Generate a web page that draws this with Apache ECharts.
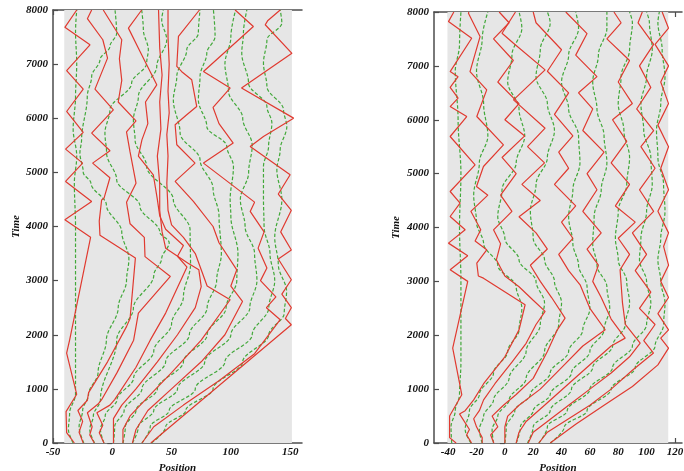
<!DOCTYPE html>
<html>
<head>
<meta charset="utf-8">
<script src="https://cdn.jsdelivr.net/npm/echarts@6/dist/echarts.min.js"></script>
<style>
  html, body { margin: 0; padding: 0; background: #fff; }
  #chart { width: 684px; height: 471px; }
</style>
</head>
<body>
<div id="chart"></div>
<script>
// tick labels
const leftPositionTicks = [-50, 0, 50, 100, 150]
const rightPositionTicks = [-40, -20, 0, 20, 40, 60, 80, 100, 120]
const timeTicks = [0, 1000, 2000, 3000, 4000, 5000, 6000, 7000, 8000]

// shaded box extent [xFrom, xTo] per panel
const leftBox = [-40.5, 151.5]
const rightBox = [-40.5, 115.3]

// left panel, red trajectories: [position, time]
const leftRed = [
  [[-32, 0], [-38.5, 190], [-39, 580], [-30, 900], [-38.5, 1660], [-36, 1900], [-18.3, 3800], [-40, 4124], [-17.4, 4463], [-39.4, 4833], [-25, 5171], [-39.4, 5430], [-24.5, 5738], [-38.5, 6125], [-24.5, 6538], [-38.5, 6880], [-18.8, 7357], [-40, 7680], [-30, 8000]],
  [[-24.5, 0], [-28, 200], [-25, 400], [-29, 600], [-21, 790], [-20, 930], [-4, 1500], [12, 2150], [15, 2300], [19.5, 3420], [-10.4, 3840], [-11, 4100], [-9, 4490], [-7, 4520], [-2, 4900], [-16.6, 5171], [-1.9, 5400], [-17.4, 5725], [0.9, 6156], [-14.6, 6538], [-4, 7111], [-8, 7450], [-21, 7840], [-17.4, 8000]],
  [[-15.2, 0], [-19, 150], [-17, 300], [-21, 560], [-12, 720], [-9, 800], [4, 1300], [18, 1900], [22, 2400], [49, 3078], [27.6, 3443], [27, 3800], [15, 4050], [12, 4450], [20, 4800], [14.9, 5387], [12, 5750], [20, 5950], [5, 6300], [8, 6700], [6, 7100], [8, 7450], [-7.6, 8000]],
  [[-7, 0], [-11, 190], [-8, 330], [-13, 560], [-2, 700], [2, 800], [20, 1400], [32, 1900], [45, 2400], [63, 3250], [55, 3450], [60, 3650], [45, 3950], [40, 4200], [38, 4500], [34.6, 4956], [22, 5300], [25, 5600], [30, 5900], [28, 6300], [37.5, 6618], [23.4, 7234], [13.6, 7665], [24.8, 8000]],
  [[1, 0], [1, 450], [8, 700], [20, 1000], [38, 1500], [55, 2000], [70, 2500], [75, 2890], [73, 3200], [63.6, 3324], [45, 3600], [42, 3900], [40, 4300], [40, 4800], [38, 5300], [41, 5800], [40, 6300], [42, 6800], [40, 7300], [39, 8000]],
  [[9, 0], [9, 250], [15, 500], [28, 800], [50, 1300], [75, 1900], [99.4, 2647], [80, 2900], [75, 3200], [70, 3500], [60, 3800], [50, 4030], [47, 4300], [46, 4800], [47, 5300], [46, 5700], [48, 6100], [47, 6500], [48, 7000], [47, 7500], [47, 8000]],
  [[17, 0], [20, 250], [30, 600], [50, 1000], [75, 1500], [95, 2000], [109.8, 2616], [100, 2900], [105, 3200], [90, 3700], [85, 4000], [68.4, 4463], [53, 4833], [69.8, 5171], [54.4, 5510], [53, 5879], [62.8, 6064], [71.2, 6218], [67, 6711], [58.6, 6860], [54.4, 6957], [55.8, 7511], [73.5, 8000]],
  [[25, 0], [35, 300], [60, 700], [90, 1150], [120, 1650], [141.6, 2278], [130, 2500], [138, 2700], [125, 3000], [130.4, 3232], [123, 3600], [128, 3900], [116.3, 4278], [120, 4450], [76.9, 5171], [102, 5541], [90, 5900], [85, 6200], [99.4, 6557], [76.9, 6864], [119, 7695], [103.6, 8000]],
  [[32.5, 0], [151, 2185], [146, 2300], [151, 2500], [143, 2750], [151, 3016], [140, 3400], [151, 3566], [142, 3900], [151, 4300], [140, 4600], [150, 4956], [116.3, 5479], [127.5, 5664], [152.9, 6002], [109, 6557], [151.5, 7200], [129, 7727], [131, 7800], [141.6, 8000]]
]

// left panel, green (dashed) trajectories
const leftGreen = [
  [[-33, 0], [-37, 250], [-36, 550], [-31, 900], [-31, 2500], [-31, 4000], [-32, 4800], [-30, 5300], [-33, 5800], [-31, 6400], [-30, 7000], [-31, 7600], [-30, 8000]],
  [[-24, 0], [-28, 300], [-25, 600], [-20, 900], [-12, 1300], [-5, 1900], [5, 2500], [12, 3000], [14, 3400], [8, 3900], [-5, 4400], [-18, 4800], [-24.5, 5000], [-27.3, 5356], [-25.9, 5602], [-21.1, 6402], [-17.4, 6772], [-10.4, 7080], [-2, 7326], [3.7, 7572], [2.3, 8000]],
  [[-15, 0], [-19, 250], [-16, 500], [-10, 800], [3.7, 1904], [17.8, 2489], [35, 3100], [41.7, 3412], [48, 3700], [40, 3900], [23.4, 4371], [3.7, 4863], [-4.8, 5356], [-6.2, 5725], [-2, 6156], [16.3, 6649], [29, 7018], [30.4, 7265], [26.2, 7634], [24.8, 8000]],
  [[-7, 0], [-10, 250], [-6, 500], [4, 800], [18, 1200], [35, 1700], [50, 2200], [60, 2700], [66, 3300], [65.6, 3940], [51.5, 4494], [29, 5110], [19.2, 5602], [17.8, 5971], [22, 6402], [37.5, 6957], [45.9, 7449], [41.7, 7819], [43, 8000]],
  [[1, 0], [2, 300], [10, 600], [25, 1000], [45, 1500], [65, 2000], [80, 2500], [88, 3000], [92, 3500], [90, 4200], [85, 4700], [74, 5233], [57.2, 5725], [51.5, 6341], [54.4, 6772], [62.8, 7265], [72.6, 7572], [74, 8000]],
  [[9, 0], [11, 300], [20, 600], [38, 1000], [60, 1500], [80, 2000], [96, 2500], [105, 3000], [106, 3500], [100, 4186], [99.4, 4494], [102.2, 5110], [96.6, 5479], [79.7, 5848], [72.6, 6341], [74, 6772], [79.7, 7203], [86.7, 7511], [85.3, 8000]],
  [[17, 0], [22, 300], [35, 600], [55, 1000], [78, 1500], [100, 2000], [116, 2500], [122, 3000], [120, 3500], [112, 4000], [108, 4500], [115, 5000], [118, 5500], [110, 6000], [98, 6500], [95, 7000], [100, 7500], [104, 8000]],
  [[25, 0], [32, 300], [48, 600], [70, 1000], [95, 1500], [118, 2000], [132, 2500], [137, 3000], [133, 3500], [128, 4000], [127.5, 4500], [127.5, 5110], [131.8, 5479], [134.6, 5910], [130.4, 6218], [114.9, 6649], [109.2, 7203], [110.6, 7572], [113.5, 8000]],
  [[33, 0], [45, 300], [62, 600], [85, 1000], [110, 1500], [132, 2000], [145, 2400], [147, 2800], [140, 3300], [137, 3800], [143, 4494], [138.8, 5048], [141.6, 5417], [147.2, 5848], [144.4, 6156], [130.4, 6587], [127.5, 7018], [130.4, 7449], [143, 7757], [141.6, 8000]]
]

// right panel, red trajectories
const rightRed = [
  [[-34.4, 0], [-39, 100], [-39, 500], [-30.4, 896], [-36.8, 1762], [-26.2, 3000], [-38.6, 3215], [-26.2, 3475], [-39.8, 3710], [-28, 3957], [-38.6, 4204], [-31.6, 4452], [-38.6, 4668], [-21, 5163], [-38.6, 5689], [-26.9, 6060], [-38.6, 6245], [-33, 6400], [-38.6, 6600], [-33, 6800], [-38.6, 6894], [-23.4, 7513], [-39.8, 7822], [-36, 8000]],
  [[-23.5, 0], [-27, 150], [-25, 250], [-32, 540], [-28, 600], [-22, 800], [-15, 1100], [0, 1600], [10, 2100], [14.3, 2566], [-15.1, 3060], [-18.7, 3100], [-19.8, 3338], [-12.8, 3586], [-21, 3750], [-17, 3957], [-24, 4300], [-12, 4600], [-20, 4761], [-15.1, 5132], [-1, 5534], [-19.8, 6060], [-12.8, 6554], [-24.6, 6894], [-17.5, 7544], [-25.7, 7977], [-25.4, 8000]],
  [[-16, 0], [-16, 100], [-20, 300], [-22, 450], [-18, 600], [-15, 800], [-7, 1100], [5, 1500], [15, 1850], [22, 2200], [28.4, 2442], [20, 2650], [10, 2900], [0, 3100], [-6, 3400], [-3, 3700], [-8, 3957], [5, 4300], [-3, 4600], [8, 5000], [-2, 5300], [14, 5700], [0, 6000], [10, 6300], [-5, 6700], [6, 7100], [-8, 7500], [3, 7800], [-4, 8000]],
  [[-7.8, 0], [-10, 150], [-5, 300], [-9, 500], [-1, 700], [8, 900], [20, 1200], [30, 1700], [37, 2100], [42.5, 2318], [33, 2700], [25, 3000], [18, 3300], [30, 3600], [22, 3900], [10, 4200], [25, 4500], [12, 4800], [28, 5200], [16, 5500], [28.4, 5843], [6.1, 6368], [28.4, 6925], [6.1, 7420], [-2, 7606], [7.5, 8000]],
  [[0, 0], [0, 300], [2, 500], [10, 700], [25, 1000], [40, 1400], [55, 1800], [70.8, 2102], [60, 2500], [53.1, 2937], [45, 3200], [38, 3500], [48, 3800], [40, 4100], [50, 4400], [35, 4800], [45, 5100], [38, 5400], [48, 5700], [35, 6100], [45, 6500], [30, 6900], [40, 7300], [22, 7800], [20, 8000]],
  [[8, 0], [10, 200], [15, 400], [28, 700], [45, 1100], [62, 1500], [75, 1800], [84.9, 1947], [75, 2300], [68, 2700], [62, 3000], [66, 3300], [58, 3600], [68, 3900], [55, 4300], [65, 4700], [58, 5000], [70, 5400], [55, 5800], [62, 6200], [52, 6500], [65, 6800], [50, 7200], [58, 7600], [43, 8000]],
  [[16.5, 0], [20, 200], [30, 400], [45, 700], [60, 1000], [75, 1300], [88, 1600], [95.5, 1854], [85, 2200], [83, 2600], [81.3, 3215], [88, 3500], [80, 3800], [92, 4100], [78, 4400], [88, 4800], [75, 5200], [86, 5600], [76, 6000], [90, 6300], [80, 6700], [88, 7100], [72, 7500], [82, 7800], [77, 8000]],
  [[24, 0], [30, 200], [45, 450], [60, 700], [75, 1000], [90, 1350], [104.9, 1669], [98, 1900], [106, 2200], [95, 2500], [103, 2800], [92, 3200], [100, 3500], [90, 3900], [105, 4300], [95, 4700], [106, 5100], [96, 5500], [105, 5800], [93, 6200], [103, 6600], [95, 7000], [105, 7400], [94, 7800], [97, 8000]],
  [[32, 0], [50, 350], [70, 700], [90, 1050], [108, 1450], [115.5, 1762], [110, 1947], [115.5, 2100], [108, 2400], [115.5, 2700], [110, 3000], [115.5, 3300], [112, 3648], [115.5, 3900], [108, 4300], [115.5, 4700], [110, 5100], [115.5, 5500], [108, 5900], [115.5, 6300], [110, 6700], [115.5, 7000], [106, 7400], [115.5, 7700], [111, 8000]]
]

// right panel, green (dashed) trajectories
const rightGreen = [
  [[-37.5, 0], [-38, 300], [-35, 600], [-32, 900], [-31, 1500], [-31, 3000], [-32, 4000], [-31, 5000], [-33, 6000], [-35, 6900], [-32, 7400], [-31, 8000]],
  [[-24, 0], [-28, 250], [-25, 600], [-18, 900], [-8, 1300], [2, 1700], [10, 2100], [12, 2500], [8, 2900], [-5, 3300], [-15, 3700], [-20, 4100], [-22, 4600], [-18, 5200], [-12, 5700], [-15, 6300], [-20, 6900], [-16, 7500], [-12, 8000]],
  [[-16, 0], [-18, 250], [-15, 500], [-8, 800], [3, 1200], [15, 1700], [25, 2200], [28, 2600], [22, 3000], [10, 3400], [0, 3800], [-5, 4200], [-2, 4700], [8, 5200], [14, 5700], [10, 6200], [2, 6700], [5, 7200], [12, 7700], [10, 8000]],
  [[-8, 0], [-9, 250], [-5, 500], [3, 800], [15, 1200], [28, 1700], [38, 2200], [40, 2600], [35, 3000], [28, 3400], [20, 3800], [18, 4300], [22, 4800], [30, 5300], [35, 5800], [30, 6300], [22, 6800], [25, 7300], [32, 7800], [30, 8000]],
  [[0, 0], [1, 300], [7, 600], [18, 900], [32, 1300], [45, 1700], [55, 2100], [60, 2500], [58, 2900], [52, 3300], [48, 3700], [45, 4200], [48, 4700], [53, 5200], [52, 5700], [45, 6200], [40, 6700], [45, 7200], [52, 7700], [50, 8000]],
  [[8, 0], [11, 300], [20, 600], [32, 900], [47, 1300], [60, 1700], [70, 2100], [74, 2500], [72, 2900], [65, 3300], [62, 3700], [63, 4200], [68, 4700], [72, 5200], [70, 5700], [65, 6200], [62, 6700], [66, 7200], [72, 7700], [72, 8000]],
  [[16, 0], [20, 300], [32, 600], [47, 1000], [62, 1400], [76, 1800], [85, 2200], [88, 2600], [86, 3000], [80, 3400], [78, 3800], [80, 4300], [86, 4800], [88, 5300], [84, 5800], [80, 6300], [82, 6800], [88, 7300], [90, 7800], [88, 8000]],
  [[24, 0], [30, 300], [44, 600], [60, 1000], [76, 1400], [90, 1800], [100, 2200], [103, 2600], [100, 3000], [95, 3400], [96, 3800], [100, 4300], [104, 4800], [103, 5300], [98, 5800], [96, 6300], [100, 6800], [104, 7300], [102, 7800], [100, 8000]],
  [[32, 0], [42, 300], [58, 600], [75, 1000], [92, 1400], [106, 1800], [112, 2200], [113, 2600], [110, 3000], [108, 3400], [110, 3800], [113, 4300], [112, 4800], [108, 5300], [107, 5800], [110, 6300], [113, 6800], [111, 7300], [108, 7800], [109, 8000]]
]

const RED = '#e03a30'
const GREEN = '#42a83a'
const AXIS = '#4d4d4d'
const FONT = "'Liberation Serif', 'DejaVu Serif', serif"

const labelStyle = { color: '#111', fontFamily: FONT, fontStyle: 'italic', fontWeight: 'bold', fontSize: 11 }

function panelAxes(idx, xMin, xMax, xTicks) {
  const xs = [
    {
      gridIndex: idx, type: 'value', min: xMin, max: xMax, position: 'bottom',
      name: 'Position', nameLocation: 'middle', nameGap: 19,
      nameTextStyle: { ...labelStyle },
      axisLine: { show: true, onZero: false, lineStyle: { color: AXIS, width: 1.5 } },
      axisTick: { show: true, inside: true, length: 5, customValues: xTicks, lineStyle: { color: AXIS, width: 1.2 } },
      axisLabel: { show: true, margin: 4, customValues: xTicks, formatter: (v) => String(v), ...labelStyle },
      splitLine: { show: false }
    },
    {
      gridIndex: idx, type: 'value', min: xMin, max: xMax, position: 'top',
      axisLine: { show: true, onZero: false, lineStyle: { color: AXIS, width: 1.5 } },
      axisTick: { show: true, inside: true, length: 5, customValues: xTicks, lineStyle: { color: AXIS, width: 1.2 } },
      axisLabel: { show: false },
      splitLine: { show: false }
    }
  ]
  const ys = [
    {
      gridIndex: idx, type: 'value', min: 0, max: 8000, position: 'left',
      name: 'Time', nameLocation: 'middle', nameGap: idx === 0 ? 28 : 32, nameRotate: 90,
      nameTextStyle: { ...labelStyle },
      axisLine: { show: true, onZero: false, lineStyle: { color: AXIS, width: 1.5 } },
      axisTick: { show: true, inside: true, length: 5, customValues: timeTicks, lineStyle: { color: AXIS, width: 1.2 } },
      axisLabel: { show: true, margin: 5, customValues: timeTicks, formatter: (v) => String(v), ...labelStyle },
      splitLine: { show: false }
    },
    {
      gridIndex: idx, type: 'value', min: 0, max: 8000, position: 'right',
      axisLine: { show: false },
      axisTick: { show: true, inside: true, length: 5, customValues: timeTicks, lineStyle: { color: AXIS, width: 1.2 } },
      axisLabel: { show: false },
      splitLine: { show: false }
    }
  ]
  return { xs, ys }
}

const left = panelAxes(0, -50, 160, leftPositionTicks)
const right = panelAxes(1, -50, 125, rightPositionTicks)

function boxSeries(xi, yi, box) {
  return {
    type: 'line', xAxisIndex: xi, yAxisIndex: yi, data: [], silent: true, z: 0,
    markArea: {
      silent: true,
      itemStyle: { color: '#e6e6e6' },
      data: [[{ coord: [box[0], 0] }, { coord: [box[1], 8000] }]]
    }
  }
}

function pathSeries(paths, xi, yi, color, dashed) {
  return paths.map((p) => ({
    type: 'line', xAxisIndex: xi, yAxisIndex: yi, data: p,
    symbol: 'none', z: dashed ? 2 : 3,
    smooth: dashed ? 0.35 : false,
    smoothMonotone: dashed ? 'y' : undefined,
    lineStyle: { color, width: 1.2, type: dashed ? [3.5, 2] : 'solid' },
    silent: true
  }))
}

const chart = echarts.init(document.getElementById('chart'), null, { renderer: 'canvas' })
chart.setOption({
  animation: false,
  backgroundColor: '#fff',
  grid: [
    { left: 53, width: 249, top: 10, height: 433, outerBoundsMode: 'none', containLabel: false },
    { left: 434, width: 248, top: 12, height: 431, outerBoundsMode: 'none', containLabel: false }
  ],
  xAxis: [...left.xs, ...right.xs],
  yAxis: [...left.ys, ...right.ys],
  series: [
    boxSeries(0, 0, leftBox),
    boxSeries(2, 2, rightBox),
    ...pathSeries(leftGreen, 0, 0, GREEN, true),
    ...pathSeries(leftRed, 0, 0, RED, false),
    ...pathSeries(rightGreen, 2, 2, GREEN, true),
    ...pathSeries(rightRed, 2, 2, RED, false)
  ]
})
</script>
</body>
</html>
